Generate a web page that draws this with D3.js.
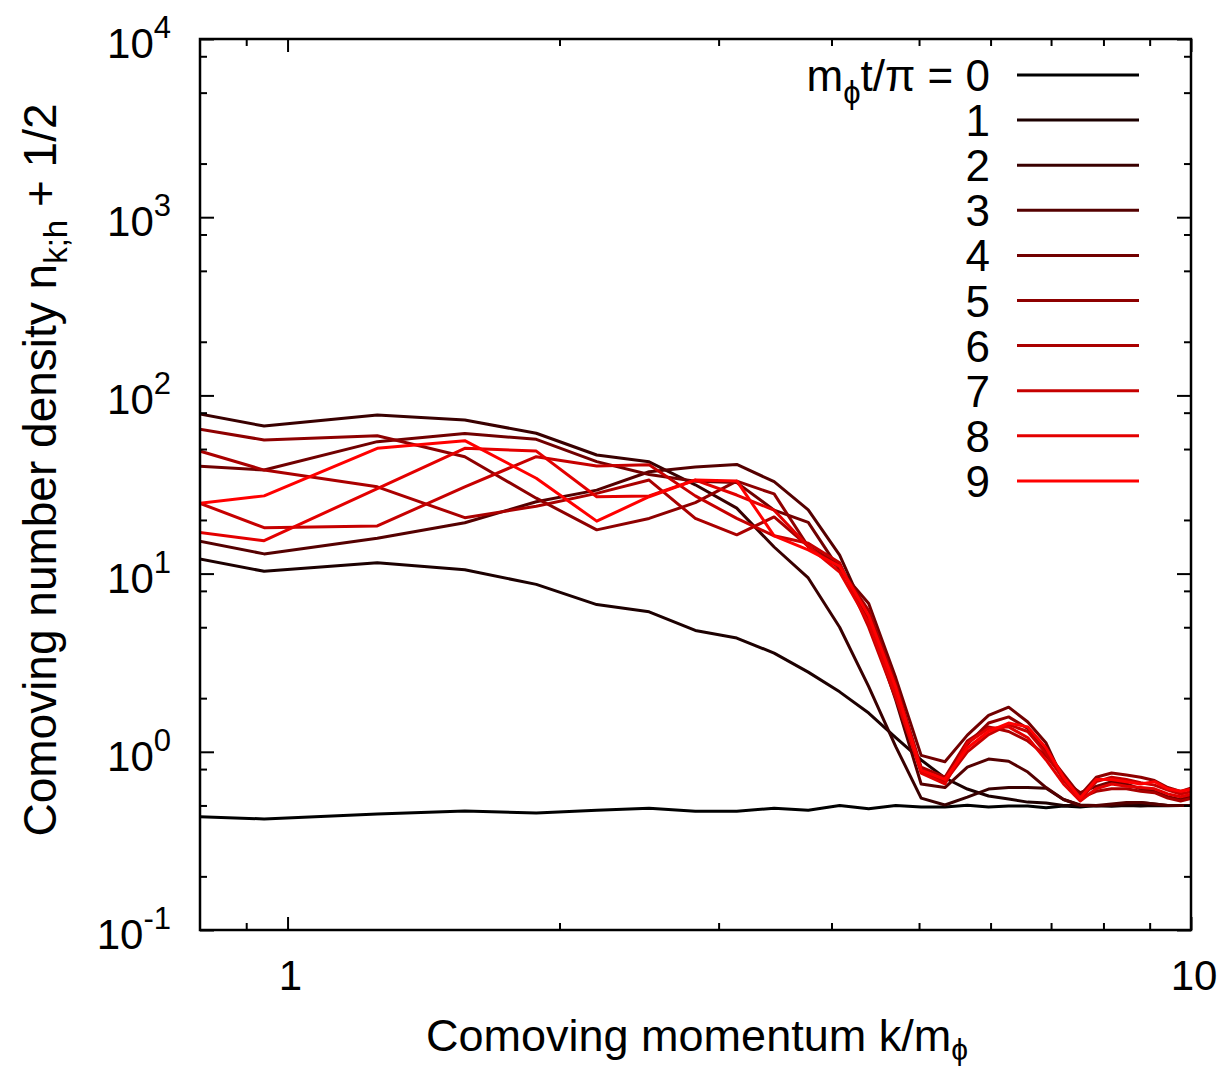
<!DOCTYPE html>
<html>
<head>
<meta charset="utf-8">
<script src="https://cdn.jsdelivr.net/npm/d3@7"></script>
<style>
  html, body { margin: 0; padding: 0; background: #fff; }
  text { font-family: "Liberation Sans", Arial, Helvetica, sans-serif; fill: #000; }
</style>
</head>
<body>
<svg id="chart" width="1225" height="1072"></svg>
<script>
// Comoving momentum grid k/m_phi (lattice modes, steps of pi/10)
const momenta = [0.628, 0.942, 1.257, 1.571, 1.885, 2.199, 2.513, 2.827, 3.142, 3.456,
                 3.770, 4.084, 4.398, 4.712, 5.027, 5.341, 5.655, 5.969, 6.283, 6.597,
                 6.912, 7.226, 7.540, 7.854, 8.168, 8.482, 8.796, 9.111, 9.425, 9.739, 10.053];

// n_{k;h} + 1/2 at each snapshot m_phi t / pi = 0 ... 9
const density0 = [0.45, 0.42, 0.448, 0.466, 0.453, 0.47, 0.482, 0.464, 0.464, 0.482, 0.47, 0.5, 0.479, 0.5, 0.49, 0.49, 0.502, 0.49, 0.497, 0.497, 0.485, 0.497, 0.49, 0.5, 0.495, 0.5, 0.497, 0.5, 0.498, 0.5, 0.5];
const density1 = [15.3, 10.3, 11.5, 10.5, 8.7, 6.7, 6.1, 4.8, 4.35, 3.58, 2.8, 2.17, 1.65, 1.2, 0.9, 0.713, 0.618, 0.565, 0.543, 0.522, 0.516, 0.5, 0.5, 0.497, 0.5, 0.5, 0.5, 0.5, 0.5, 0.5, 0.5];
const density2 = [98.8, 67.3, 77.6, 72.8, 61.3, 46.3, 42.4, 31.5, 23.3, 14.1, 9.45, 5.0, 2.32, 1.07, 0.55, 0.503, 0.557, 0.618, 0.63, 0.63, 0.624, 0.54, 0.503, 0.5, 0.5, 0.51, 0.52, 0.51, 0.5, 0.5, 0.5];
const density3 = [19.4, 12.9, 15.8, 19.3, 25.3, 29.4, 37.3, 39.6, 41, 32.8, 22.8, 12.7, 5.5, 1.95, 0.66, 0.63, 0.82, 0.91, 0.885, 0.77, 0.63, 0.54, 0.5, 0.5, 0.51, 0.52, 0.52, 0.51, 0.5, 0.5, 0.5];
const density4 = [43.2, 38.1, 55, 61.2, 56.7, 42.5, 36, 33, 32.4, 22.7, 19.4, 10.5, 6.8, 2.6, 0.955, 0.88, 1.24, 1.6, 1.78, 1.47, 1.12, 0.69, 0.59, 0.64, 0.68, 0.66, 0.62, 0.6, 0.56, 0.54, 0.57];
const density5 = [79.3, 56.2, 59.4, 45.3, 26.5, 17.6, 20.4, 25, 33, 28, 14.2, 11.2, 5.6, 2.2, 0.8, 0.68, 1.1, 1.45, 1.57, 1.35, 1.0, 0.75, 0.57, 0.72, 0.76, 0.74, 0.72, 0.69, 0.63, 0.6, 0.63];
const density6 = [70, 38.1, 30.7, 20.6, 23.9, 28.2, 33.5, 20.4, 16.5, 20.8, 14.2, 10.8, 6.2, 2.4, 0.82, 0.72, 1.15, 1.38, 1.3, 1.15, 0.95, 0.72, 0.55, 0.6, 0.62, 0.62, 0.6, 0.59, 0.55, 0.53, 0.55];
const density7 = [39.5, 18.1, 18.5, 30.7, 45.3, 40.2, 40.8, 27.3, 20.4, 16.3, 14.8, 11.5, 5.0, 2.0, 0.78, 0.68, 1.0, 1.25, 1.42, 1.3, 0.98, 0.7, 0.54, 0.68, 0.72, 0.7, 0.67, 0.65, 0.61, 0.58, 0.6];
const density8 = [19.9, 15.3, 30, 50.5, 48.7, 27, 27.3, 33.5, 27.6, 22.7, 14.2, 10.2, 5.3, 2.1, 0.76, 0.66, 1.12, 1.35, 1.38, 1.2, 0.9, 0.66, 0.53, 0.62, 0.66, 0.64, 0.63, 0.62, 0.58, 0.56, 0.58];
const density9 = [21.5, 27.3, 50.5, 55.7, 34.3, 19.7, 27, 33.5, 33.1, 16.3, 13.6, 11.0, 5.8, 2.3, 0.79, 0.7, 1.05, 1.3, 1.45, 1.38, 1.05, 0.72, 0.55, 0.7, 0.7, 0.68, 0.66, 0.68, 0.62, 0.6, 0.62];

const snapshotLabels = ["0", "1", "2", "3", "4", "5", "6", "7", "8", "9"];
const yTickExponents = [-1, 0, 1, 2, 3, 4];
const yMinorTicks = [0.2, 0.5, 0.8, 2, 5, 8, 20, 50, 80, 200, 500, 800, 2000, 5000, 8000];
const xMajorTicks = [1, 10];
const xTickLabels = ["1", "10"];
const xMinorTicks = [0.9, 2, 3, 4, 5, 6, 7, 8, 9];

// black -> pure red ramp, one shade per snapshot
const lineColors = ["#000000", "#1c0000", "#390000", "#550000", "#710000",
                    "#8e0000", "#aa0000", "#c60000", "#e30000", "#ff0000"];

const series = [density0, density1, density2, density3, density4,
                density5, density6, density7, density8, density9];

const frame = { left: 200, right: 1191, top: 39, bottom: 930 };
const svg = d3.select("#chart");

const x = d3.scaleLog().domain([0.8, 10]).range([frame.left, frame.right]);
const y = d3.scaleLog().domain([0.1, 1e4]).range([frame.bottom, frame.top]);

svg.append("defs").append("clipPath").attr("id", "plot-area")
  .append("rect")
  .attr("x", frame.left).attr("y", frame.top)
  .attr("width", frame.right - frame.left).attr("height", frame.bottom - frame.top);

// spectra
const line = d3.line().x(d => x(d[0])).y(d => y(d[1]));
const curves = svg.append("g").attr("clip-path", "url(#plot-area)");
series.forEach((vals, i) => {
  curves.append("path")
    .attr("d", line(d3.zip(momenta, vals)))
    .attr("fill", "none")
    .attr("stroke", lineColors[i])
    .attr("stroke-width", 3)
    .attr("stroke-linejoin", "round");
});

// ticks on all four sides, pointing inward
function ticks(axis, tx, ty) {
  const g = svg.append("g").attr("transform", `translate(${tx},${ty})`).call(axis);
  g.select(".domain").remove();
  g.selectAll("text").remove();
  g.selectAll("line").attr("stroke", "#000").attr("stroke-width", 2);
}
const yMajorVals = yTickExponents.map(e => Math.pow(10, e));
ticks(d3.axisLeft(y).tickValues(yMajorVals).tickSize(-14), frame.left, 0);
ticks(d3.axisLeft(y).tickValues(yMinorTicks).tickSize(-7), frame.left, 0);
ticks(d3.axisRight(y).tickValues(yMajorVals).tickSize(-14), frame.right, 0);
ticks(d3.axisRight(y).tickValues(yMinorTicks).tickSize(-7), frame.right, 0);
ticks(d3.axisBottom(x).tickValues(xMajorTicks).tickSize(-13), 0, frame.bottom);
ticks(d3.axisBottom(x).tickValues(xMinorTicks).tickSize(-7), 0, frame.bottom);
ticks(d3.axisTop(x).tickValues(xMajorTicks).tickSize(-13), 0, frame.top);
ticks(d3.axisTop(x).tickValues(xMinorTicks).tickSize(-7), 0, frame.top);

// frame
svg.append("rect")
  .attr("x", frame.left).attr("y", frame.top)
  .attr("width", frame.right - frame.left).attr("height", frame.bottom - frame.top)
  .attr("fill", "none").attr("stroke", "#000").attr("stroke-width", 2.5);

// y tick labels: 10^n
yTickExponents.forEach(e => {
  const t = svg.append("text")
    .attr("x", 171).attr("y", y(Math.pow(10, e)) + 19)
    .attr("text-anchor", "end").attr("font-size", 42);
  t.append("tspan").text("10");
  t.append("tspan").attr("font-size", 31).attr("dy", -20).text(String(e));
});

// x tick labels
xMajorTicks.forEach((v, i) => {
  svg.append("text")
    .attr("x", x(v) + 3).attr("y", 990)
    .attr("text-anchor", "middle").attr("font-size", 42)
    .text(xTickLabels[i]);
});

// axis titles
const xt = svg.append("text")
  .attr("x", 697).attr("y", 1051)
  .attr("text-anchor", "middle").attr("font-size", 45);
xt.append("tspan").text("Comoving momentum k/m");
xt.append("tspan").attr("font-size", 30).attr("dy", 9).text("\u03D5");

const yt = svg.append("text")
  .attr("transform", "translate(56,470) rotate(-90)")
  .attr("text-anchor", "middle").attr("font-size", 46);
yt.append("tspan").text("Comoving number density n");
yt.append("tspan").attr("font-size", 33).attr("dy", 11).text("k;h");
yt.append("tspan").attr("dy", -11).text(" + 1/2");

// legend
const legend = svg.append("g");
snapshotLabels.forEach((lab, i) => {
  const ly = 75 + 45.1 * i;
  legend.append("line")
    .attr("x1", 1017).attr("x2", 1139).attr("y1", ly).attr("y2", ly)
    .attr("stroke", lineColors[i]).attr("stroke-width", 3);
  const t = legend.append("text")
    .attr("x", 990).attr("y", ly + 16)
    .attr("text-anchor", "end").attr("font-size", 44);
  if (i === 0) {
    t.append("tspan").text("m");
    t.append("tspan").attr("font-size", 31).attr("dy", 12).text("\u03D5");
    t.append("tspan").attr("dy", -12).text("t/\u03C0 = " + lab);
  } else {
    t.text(lab);
  }
});
</script>
</body>
</html>
